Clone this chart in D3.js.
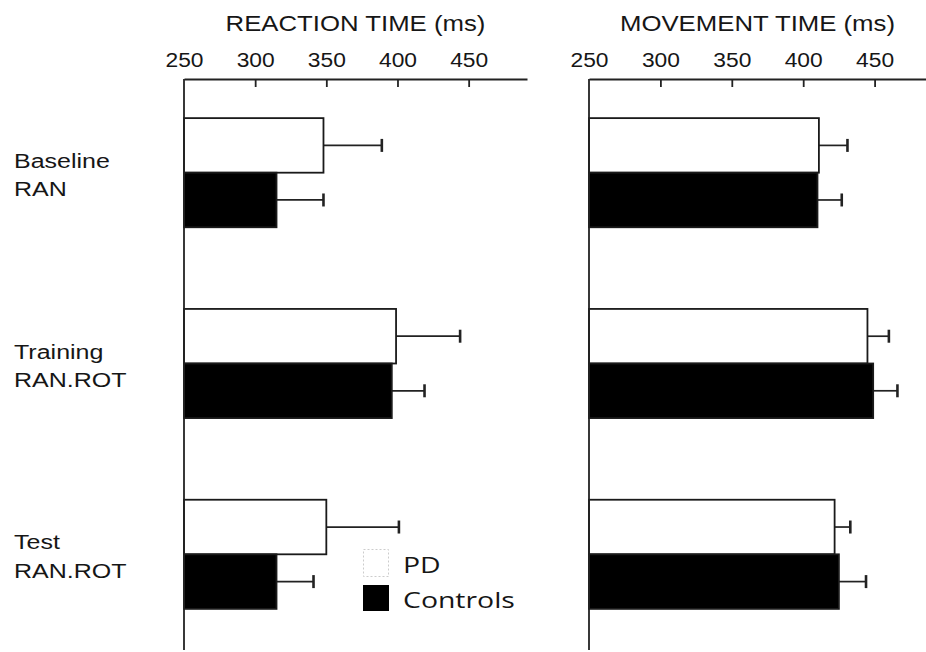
<!DOCTYPE html>
<html>
<head>
<meta charset="utf-8">
<script src="https://cdn.jsdelivr.net/npm/d3@7"></script>
<style>
  body { margin: 0; background: #fff; }
  text { fill: #161616; }
</style>
</head>
<body>
<svg width="926" height="652"></svg>
<script>
// data
const categories = ["Baseline RAN", "Training RAN.ROT", "Test RAN.ROT"];
const categoryLines = [["Baseline", "RAN"], ["Training", "RAN.ROT"], ["Test", "RAN.ROT"]];
const series = ["PD", "Controls"];
const tickValues = [250, 300, 350, 400, 450];

const rtPD = [348, 399, 350];
const rtPDErr = [41, 45, 51];
const rtControls = [315, 396, 315];
const rtControlsErr = [33, 23, 26];

const mtPD = [411, 445, 422];
const mtPDErr = [20, 15, 11];
const mtControls = [410, 449, 425];
const mtControlsErr = [17, 17, 19];

const svg = d3.select("svg");
const axisY = 79;

// stretch text horizontally (the source figure is wider than the fonts)
function stretch(sel, k) {
    sel.each(function () {
        const w = this.getComputedTextLength();
        d3.select(this).attr("textLength", w * k).attr("lengthAdjust", "spacingAndGlyphs");
    });
}

// y scales shared by both panels
const y = d3.scaleBand()
    .domain(categories)
    .range([axisY, 648])
    .paddingInner(0.428)
    .paddingOuter(0.205);

const ySub = d3.scaleBand()
    .domain(series)
    .range([0, y.bandwidth()]);

const panels = [
    { title: "REACTION TIME (ms)", range: [184, 527], max: 491, pd: rtPD, pdErr: rtPDErr, ctrl: rtControls, ctrlErr: rtControlsErr },
    { title: "MOVEMENT TIME (ms)", range: [589, 926], max: 486, pd: mtPD, pdErr: mtPDErr, ctrl: mtControls, ctrlErr: mtControlsErr }
];

panels.forEach(p => {
    const x = d3.scaleLinear().domain([250, p.max]).range(p.range);
    const g = svg.append("g");

    // rows: one entry per bar
    const rows = [];
    categories.forEach((c, i) => {
        rows.push({ cat: c, s: "PD", v: p.pd[i], e: p.pdErr[i] });
        rows.push({ cat: c, s: "Controls", v: p.ctrl[i], e: p.ctrlErr[i] });
    });

    // error bars (drawn first so bars cover the start)
    rows.forEach(d => {
        const cy = y(d.cat) + ySub(d.s) + ySub.bandwidth() / 2;
        g.append("line")
            .attr("x1", x(d.v)).attr("x2", x(d.v + d.e))
            .attr("y1", cy).attr("y2", cy)
            .attr("stroke", "#222").attr("stroke-width", 1.7);
        g.append("line")
            .attr("x1", x(d.v + d.e)).attr("x2", x(d.v + d.e))
            .attr("y1", cy - 6.5).attr("y2", cy + 6.5)
            .attr("stroke", "#222").attr("stroke-width", 2.6);
    });

    // bars
    g.selectAll(".bar")
        .data(rows)
        .enter()
        .append("rect")
        .attr("x", x(250))
        .attr("y", d => y(d.cat) + ySub(d.s))
        .attr("width", d => x(d.v) - x(250))
        .attr("height", ySub.bandwidth())
        .attr("fill", d => d.s === "PD" ? "#fff" : "#000")
        .attr("stroke", "#1a1a1a")
        .attr("stroke-width", 1.8);

    // top axis, ticks pointing down
    const ax = g.append("g")
        .attr("transform", `translate(0,${axisY})`)
        .call(d3.axisTop(x).tickValues(tickValues).tickSizeInner(-8).tickSizeOuter(0).tickPadding(12));
    ax.select(".domain").attr("stroke", "#222").attr("stroke-width", 1.8);
    ax.selectAll(".tick line").attr("stroke", "#222").attr("stroke-width", 1.8);
    ax.selectAll(".tick").filter(d => d === 250).select("line").remove();
    ax.selectAll(".tick text")
        .attr("font-family", "Liberation Sans, Arial, sans-serif")
        .attr("font-size", 20)
        .attr("fill", "#161616")
        .call(stretch, 1.14);

    // vertical axis
    g.append("line")
        .attr("x1", x(250)).attr("x2", x(250))
        .attr("y1", axisY).attr("y2", 650)
        .attr("stroke", "#222").attr("stroke-width", 1.8);

    // panel title
    g.append("text")
        .attr("x", (p.range[0] + p.range[1]) / 2)
        .attr("y", 31)
        .attr("text-anchor", "middle")
        .attr("font-family", "Liberation Sans, Arial, sans-serif")
        .attr("font-size", 22)
        .text(p.title)
        .call(stretch, 1.17);
});

// category labels
categories.forEach((c, i) => {
    const cy = y(c) + y.bandwidth() / 2;
    const t = svg.append("g");
    categoryLines[i].forEach((line, j) => {
        t.append("text")
            .attr("x", 14)
            .attr("y", cy - 5 + j * 28.5)
            .attr("font-family", "Liberation Sans, Arial, sans-serif")
            .attr("font-size", 20)
            .text(line)
            .call(stretch, 1.25);
    });
});

// legend
const legend = svg.append("g").attr("transform", "translate(363,549)");
series.forEach((s, i) => {
    legend.append("rect")
        .attr("x", 0.5)
        .attr("y", i * 36 + 0.5)
        .attr("width", 25)
        .attr("height", i === 0 ? 27 : 25)
        .attr("fill", i === 0 ? "#fff" : "#000")
        .attr("stroke", i === 0 ? "#ccc" : "#000")
        .attr("stroke-dasharray", i === 0 ? "2,2" : null);
    legend.append("text")
        .attr("x", 40)
        .attr("y", 23.5 + i * 35)
        .attr("font-family", "Open Sans, sans-serif")
        .attr("font-size", 21.5)
        .text(s)
        .call(stretch, 1.32);
});
</script>
</body>
</html>
